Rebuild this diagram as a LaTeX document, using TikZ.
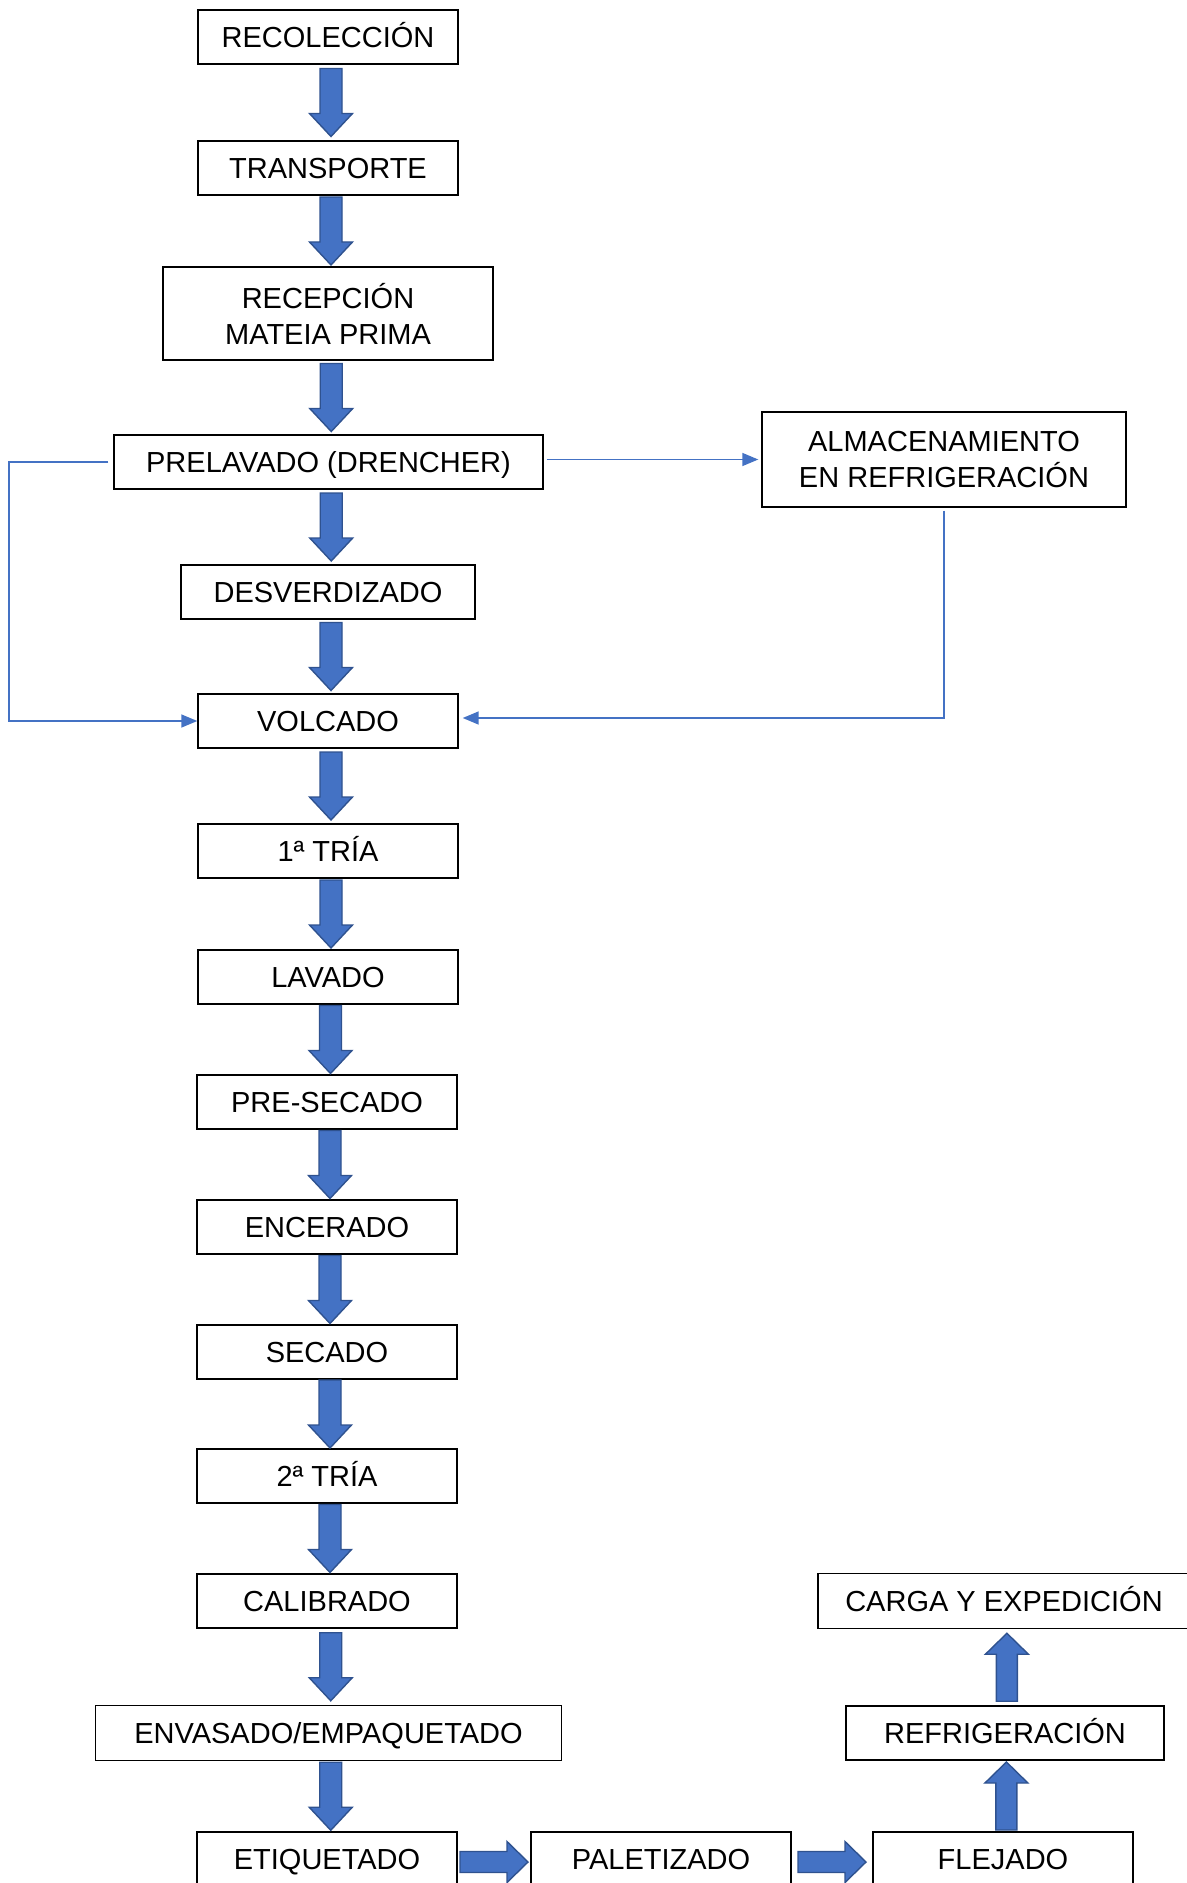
\documentclass[tikz,border=0pt]{standalone}
\usepackage{fontspec}
\setmainfont{Liberation Sans}
\usetikzlibrary{positioning, calc, arrows.meta}

\definecolor{flowblue}{HTML}{4472C4}
\definecolor{flowedge}{HTML}{2F528F}

% block arrows, centred between two nodes
\newcommand{\flowdown}[2]{%
  \filldraw[bigarrow] let \p1=($(#1.south)!0.5!(#2.north)+(1.5pt,0)$) in
    (\x1-5.5pt,\y1+17pt) -- (\x1+5.5pt,\y1+17pt) -- (\x1+5.5pt,\y1-5.5pt) -- (\x1+10.75pt,\y1-5.5pt)
    -- (\x1,\y1-17pt) -- (\x1-10.75pt,\y1-5.5pt) -- (\x1-5.5pt,\y1-5.5pt) -- cycle;}
\newcommand{\flowup}[2]{%
  \filldraw[bigarrow] let \p1=($(#1.north)!0.5!(#2.south)+(1.2pt,0)$) in
    (\x1-5.25pt,\y1-17pt) -- (\x1+5.25pt,\y1-17pt) -- (\x1+5.25pt,\y1+6.5pt) -- (\x1+10.75pt,\y1+6.5pt)
    -- (\x1,\y1+17pt) -- (\x1-10.75pt,\y1+6.5pt) -- (\x1-5.25pt,\y1+6.5pt) -- cycle;}
\newcommand{\flowright}[2]{%
  \filldraw[bigarrow] let \p1=($(#1.east)!0.5!(#2.west)+(0,-1.5pt)$) in
    (\x1-17pt,\y1+5.25pt) -- (\x1+6.5pt,\y1+5.25pt) -- (\x1+6.5pt,\y1+10.25pt) -- (\x1+17pt,\y1)
    -- (\x1+6.5pt,\y1-10.25pt) -- (\x1+6.5pt,\y1-5.25pt) -- (\x1-17pt,\y1-5.25pt) -- cycle;}

\begin{document}
\begin{tikzpicture}[
    x=0.5pt, y=-0.5pt,
    boxbase/.style={draw, rectangle, line width=0.7pt, minimum width=130pt, minimum height=27pt, inner sep=0pt, align=center, fill=white, font=\fontsize{14.5}{18}\selectfont},
    stepbox/.style={boxbase, text height=10.4pt, text depth=0pt},
    bigarrow/.style={fill=flowblue, draw=flowedge, line width=0.7pt, line join=miter},
    thinarrow/.style={draw=flowblue, line width=0.75pt, -{Triangle[length=8pt, width=6.5pt]}}
]
    \useasboundingbox (0,0) rectangle (1187,1883);

    % ================= MAIN LINE =================
    \node[stepbox] (recol) at (328, 37) {RECOLECCIÓN};
    \node[stepbox] (transp) at (328, 168) {TRANSPORTE};
    \node[boxbase, minimum width=165pt, minimum height=46.5pt] (recep) at (328, 313.5) {RECEPCIÓN\\MATEIA PRIMA};
    \node[stepbox, minimum width=214.5pt] (prelav) at (328.5, 462) {PRELAVADO (DRENCHER)};
    \node[stepbox, minimum width=147pt] (desverd) at (328, 592) {DESVERDIZADO};
    \node[stepbox] (volcado) at (328, 721) {VOLCADO};
    \node[stepbox] (tria1) at (328, 851) {1ª TRÍA};
    \node[stepbox] (lavado) at (328, 977) {LAVADO};
    \node[stepbox] (presec) at (327, 1102) {PRE-SECADO};
    \node[stepbox] (encer) at (327, 1227) {ENCERADO};
    \node[stepbox] (secado) at (327, 1352) {SECADO};
    \node[stepbox] (tria2) at (327, 1476) {2ª TRÍA};
    \node[stepbox] (calib) at (327, 1601) {CALIBRADO};
    \node[stepbox, minimum width=233pt, minimum height=27.5pt] (envas) at (328.5, 1733) {ENVASADO/EMPAQUETADO};
    \node[stepbox] (etiq) at (327, 1859) {ETIQUETADO};

    % ================= SIDE BRANCH =================
    \node[boxbase, minimum width=182pt, minimum height=47.5pt] (almac) at (944, 459.5) {ALMACENAMIENTO\\EN REFRIGERACIÓN};

    % ================= BOTTOM LINE =================
    \node[stepbox] (palet) at (661, 1859) {PALETIZADO};
    \node[stepbox] (flej) at (1003, 1859) {FLEJADO};
    \node[stepbox, minimum width=159pt] (refrig) at (1005, 1733) {REFRIGERACIÓN};
    \node[stepbox, minimum width=186pt, minimum height=27.5pt] (carga) at (1004, 1601) {CARGA Y EXPEDICIÓN};

    % Block arrows
    \flowdown{recol}{transp}
    \flowdown{transp}{recep}
    \flowdown{recep}{prelav}
    \flowdown{prelav}{desverd}
    \flowdown{desverd}{volcado}
    \flowdown{volcado}{tria1}
    \flowdown{tria1}{lavado}
    \flowdown{lavado}{presec}
    \flowdown{presec}{encer}
    \flowdown{encer}{secado}
    \flowdown{secado}{tria2}
    \flowdown{tria2}{calib}
    \flowdown{calib}{envas}
    \flowdown{envas}{etiq}
    \flowright{etiq}{palet}
    \flowright{palet}{flej}
    \flowup{flej}{refrig}
    \flowup{refrig}{carga}

    % Thin connectors
    \coordinate (leftbend) at (9, 600);
    \draw[thinarrow] ($(prelav.west)+(-5,0)$) -| (leftbend) |- (volcado.west);
    \draw[thinarrow] ($(prelav.east)+(3,-2.5)$) -- ($(almac.west)+(-3,0)$);
    \draw[thinarrow] ($(almac.south)+(0,3)$) |- ($(volcado.east)+(4,-3)$);

\end{tikzpicture}
\end{document}
